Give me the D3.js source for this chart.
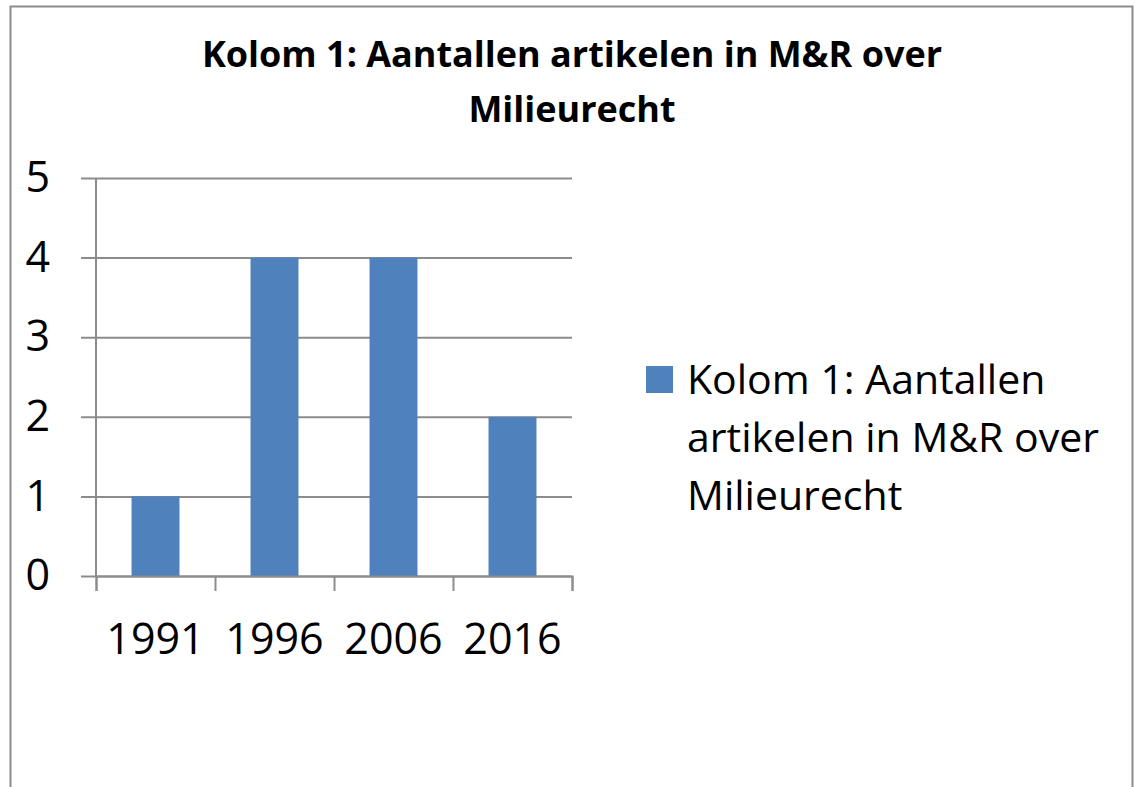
<!DOCTYPE html>
<html>
<head>
<meta charset="utf-8">
<script src="https://cdn.jsdelivr.net/npm/d3@7"></script>
<style>
  body { margin: 0; background: #fff; }
  svg text { font-family: "Open Sans", "Noto Sans", sans-serif; fill: #000; }
</style>
</head>
<body>
<div id="chart"></div>
<script>
// ── Data ────────────────────────────────────────────────────────────────────
const years = ['1991', '1996', '2006', '2016'];
const counts = [1, 4, 4, 2];
const yTicks = [0, 1, 2, 3, 4, 5];
const titleLines = ['Kolom 1: Aantallen artikelen in M&R over', 'Milieurecht'];
const legendLines = ['Kolom 1: Aantallen', 'artikelen in M&R over', 'Milieurecht'];

const W = 1138, H = 787;
const plot = { left: 96, right: 572, top: 178, bottom: 576 };
const barColor = '#4f81bd';
const lineColor = '#8c8c8c';

const svg = d3.select('#chart').append('svg')
  .attr('width', W)
  .attr('height', H);

// outer chart border (bottom runs off the page)
svg.append('rect')
  .attr('x', 10.5).attr('y', 6.5)
  .attr('width', 1122).attr('height', 800)
  .attr('fill', 'none')
  .attr('stroke', lineColor)
  .attr('stroke-width', 2);

// ── Title ───────────────────────────────────────────────────────────────────
svg.append('text')
  .attr('text-anchor', 'middle')
  .style('font-size', '36px')
  .style('font-weight', 'bold')
  .selectAll('tspan')
  .data(titleLines)
  .join('tspan')
  .attr('x', 572)
  .attr('y', (d, i) => 67 + i * 55)
  .text(d => d);

// ── Scales ──────────────────────────────────────────────────────────────────
const x = d3.scaleBand()
  .domain(years)
  .range([plot.left, plot.right])
  .paddingInner(0.597)
  .paddingOuter(0.2985);

// category boundaries for the tick marks
const xEdge = d3.scaleLinear()
  .domain([0, years.length])
  .range([plot.left, plot.right]);

const y = d3.scaleLinear()
  .domain([0, 5])
  .range([plot.bottom, plot.top]);

// ── Gridlines + y labels ────────────────────────────────────────────────────
svg.append('g')
  .attr('transform', `translate(${plot.right},0)`)
  .call(d3.axisLeft(y).tickValues(yTicks).tickFormat(d3.format('d'))
    .tickSize(plot.right - 81).tickPadding(31))
  .call(ax => ax.select('.domain').remove())
  .call(ax => ax.selectAll('line').attr('stroke', lineColor).attr('stroke-width', 2))
  .call(ax => ax.selectAll('text')
    .attr('fill', '#000')
    .style('font-family', '"Open Sans", sans-serif')
    .style('font-size', '43px'));

// ── Bars ────────────────────────────────────────────────────────────────────
svg.append('g')
  .selectAll('rect')
  .data(years.map((yr, i) => ({ yr, v: counts[i] })))
  .join('rect')
  .attr('x', d => x(d.yr))
  .attr('y', d => y(d.v))
  .attr('width', x.bandwidth())
  .attr('height', d => y(0) - y(d.v))
  .attr('fill', barColor);

// ── Axes lines ──────────────────────────────────────────────────────────────
svg.append('line')
  .attr('x1', plot.left).attr('x2', plot.left)
  .attr('y1', plot.top).attr('y2', plot.bottom)
  .attr('stroke', lineColor).attr('stroke-width', 2);

svg.append('g')
  .attr('transform', `translate(0,${plot.bottom})`)
  .call(d3.axisBottom(xEdge).ticks(years.length).tickSize(15).tickFormat(''))
  .call(ax => ax.select('.domain').attr('stroke', lineColor).attr('stroke-width', 2))
  .call(ax => ax.selectAll('line').attr('stroke', lineColor).attr('stroke-width', 2));

// x labels
svg.append('g')
  .attr('transform', `translate(0,${plot.bottom})`)
  .call(d3.axisBottom(x).tickSize(0).tickPadding(47))
  .call(ax => ax.select('.domain').remove())
  .call(ax => ax.selectAll('text')
    .attr('fill', '#000')
    .style('font-family', '"Open Sans", sans-serif')
    .style('font-size', '43px'));

// ── Legend ──────────────────────────────────────────────────────────────────
const legend = svg.append('g');
legend.append('rect')
  .attr('x', 646).attr('y', 366)
  .attr('width', 27).attr('height', 27)
  .attr('fill', barColor);

legend.append('text')
  .style('font-size', '41px')
  .selectAll('tspan')
  .data(legendLines)
  .join('tspan')
  .attr('x', 687)
  .attr('y', (d, i) => 394 + i * 58)
  .text(d => d);
</script>
</body>
</html>
